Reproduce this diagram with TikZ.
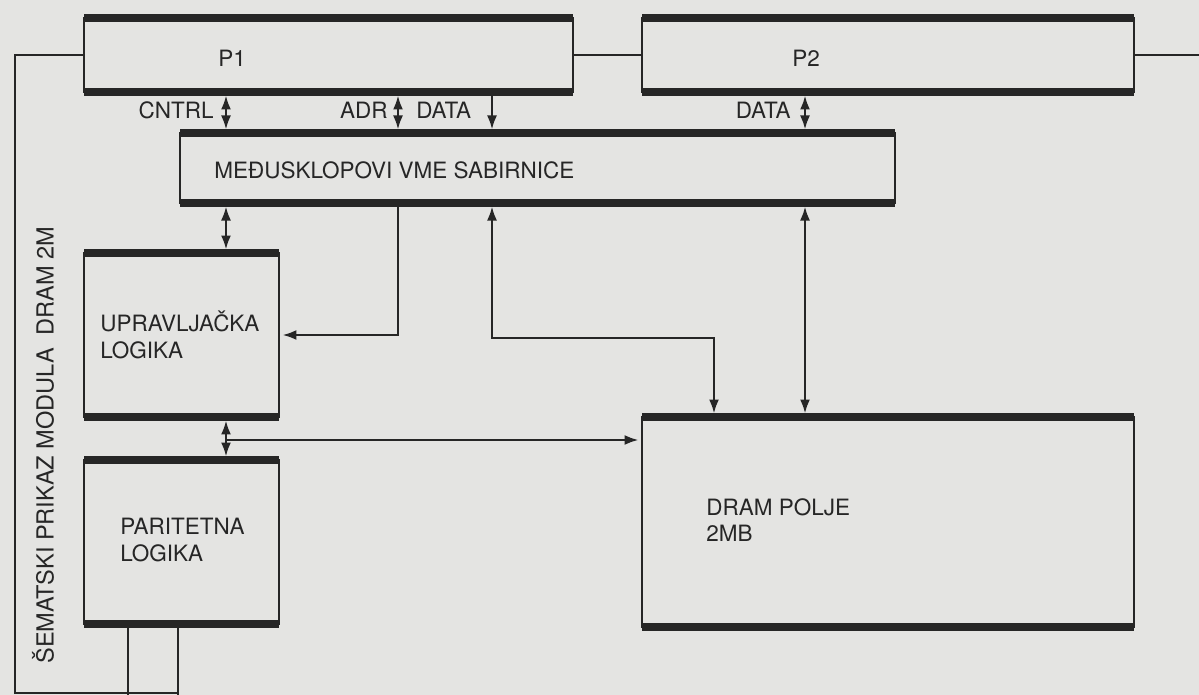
\documentclass[tikz,border=0pt]{standalone}
\usepackage{fontspec}
\setmainfont{TeX Gyre Heros}
\usepackage{xcolor}
\usepackage{tikz}
\usetikzlibrary{arrows.meta, positioning}

\definecolor{pozadina}{RGB}{228,228,226}
\definecolor{crta}{RGB}{38,38,38}

\begin{document}
\begin{tikzpicture}[
  x=0.02cm, y=-0.02cm,
  blok/.style={
    rectangle, draw=crta, line width=1.6pt,
    inner sep=0pt, outer sep=0pt
  },
  debela/.style={draw=crta, line width=4.6pt},
  tekst/.style={font=\fontsize{12.8}{15}\selectfont, text=crta, inner sep=0pt, align=left},
  vod/.style={draw=crta, line width=1.3pt},
  jed/.style={vod, -{Latex[length=0.28cm,width=0.2cm]}, shorten >=2pt},
  dvo/.style={vod, {Latex[length=0.28cm,width=0.2cm]}-{Latex[length=0.28cm,width=0.2cm]},
    shorten >=2pt, shorten <=2pt}
]
\useasboundingbox (0,0) rectangle (1199,695);
\fill[pozadina] (0,0) rectangle (1199,695);

% --- Row 0: processors ---
\node[blok, minimum width=9.78cm, minimum height=1.48cm] (p1) at (328.5,55) {};
\node[blok, minimum width=9.84cm, minimum height=1.48cm] (p2) at (888,55)   {};

% --- Row 1: VME interface ---
\node[blok, minimum width=14.3cm, minimum height=1.4cm]  (med) at (537.5,168) {};

% --- Row 2: logic and memory ---
\node[blok, minimum width=3.9cm, minimum height=3.28cm]  (upr)  at (181.5,335) {};
\node[blok, minimum width=3.9cm, minimum height=3.28cm]  (par)  at (181.5,542) {};
\node[blok, minimum width=9.84cm, minimum height=4.2cm]  (dram) at (888,522)   {};

\foreach \b in {p1,p2,med,upr,par,dram}
  \draw[debela] (\b.north west) -- (\b.north east) (\b.south west) -- (\b.south east);

% Texts
\node[tekst] (tp1)   at (232,58)  {P1};
\node[tekst] (tp2)   at (806,58)  {P2};
\node[tekst, anchor=east] (tcntrl) at (214,110) {CNTRL};
\node[tekst, anchor=east] (tadr)   at (388,110) {ADR};
\node[tekst, anchor=west] (tdata1) at (416,110) {DATA};
\node[tekst, anchor=east] (tdata2) at (791,110) {DATA};
\node[tekst, anchor=west] (tmed)  at (214,170) {MEĐUSKLOPOVI VME SABIRNICE};
\node[tekst, anchor=west] (tupr)  at (100,335) {UPRAVLJAČKA\\LOGIKA};
\node[tekst, anchor=west] (tpar)  at (120,540) {PARITETNA\\LOGIKA};
\node[tekst, anchor=west] (tdram) at (706,520) {DRAM POLJE\\2MB};
\node[tekst, rotate=90, font=\fontsize{13.4}{15}\selectfont] (naslov) at (43,445)
  {ŠEMATSKI PRIKAZ MODULA\ \ DRAM 2M};

% Bus columns
\coordinate (s1) at (226,0);
\coordinate (s2) at (398,0);
\coordinate (s3) at (492,0);
\coordinate (s4) at (805,0);
\coordinate (r1) at (714,338);
\coordinate (g1) at (226,440);
\coordinate (ld) at (15,693);
\coordinate (d1) at (128,695);
\coordinate (d2) at (178,695);
\coordinate (desno) at (1199,0);

% Arrows
\draw[vod] (p1.west) -| (ld) -- (ld -| d2);
\draw[vod] (p1.east) -- (p2.west);
\draw[vod] (p2.east) -- (p2.east -| desno);
\draw[dvo] (p1.south -| s1) -- (med.north -| s1);
\draw[dvo] (p1.south -| s2) -- (med.north -| s2);
\draw[jed] (p1.south -| s3) -- (med.north -| s3);
\draw[dvo] (p2.south -| s4) -- (med.north -| s4);
\draw[dvo] (med.south -| s1) -- (upr.north -| s1);
\draw[jed] (med.south -| s2) |- (upr.east);
\draw[dvo] (med.south -| s3) |- (r1) -- (dram.north -| r1);
\draw[dvo] (med.south -| s4) -- (dram.north -| s4);
\draw[dvo] (upr.south -| s1) -- (par.north -| s1);
\draw[jed] (g1) -- (g1 -| dram.west);
\draw[vod] (par.south -| d1) -- (d1);
\draw[vod] (par.south -| d2) -- (d2);

\end{tikzpicture}
\end{document}
